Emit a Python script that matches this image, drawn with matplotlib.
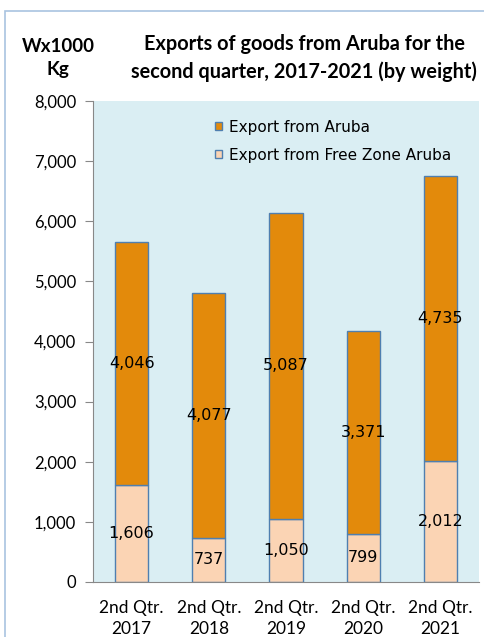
import matplotlib.pyplot as plt
from matplotlib.patches import Rectangle

plt.rcParams['font.family'] = ['Lato', 'DejaVu Sans']

categories = ['2nd Qtr.\n2017', '2nd Qtr.\n2018', '2nd Qtr.\n2019', '2nd Qtr.\n2020', '2nd Qtr.\n2021']
free_zone = [1606, 737, 1050, 799, 2012]
aruba = [4046, 4077, 5087, 3371, 4735]

c_aruba = '#E38A0B'
c_free = '#FBD4B4'
c_edge = '#4F7FB0'

fig = plt.figure(figsize=(4.84, 6.37), dpi=100)
# light blue chart-area border (right and bottom run off the image)
fig.patches.append(Rectangle((5 / 484, -0.1), 1.2, (637 - 11) / 637 + 0.1, transform=fig.transFigure,
                             fill=False, edgecolor='#A9C4E0', linewidth=1.2))

ax = fig.add_axes([93 / 484, 55 / 637, 386 / 484, 481 / 637])
ax.set_facecolor('#DAEEF3')

x = range(len(categories))
b1 = ax.bar(x, free_zone, width=0.43, color=c_free, edgecolor=c_edge, linewidth=1,
            label='Export from Free Zone Aruba', zorder=2)
b2 = ax.bar(x, aruba, width=0.43, bottom=free_zone, color=c_aruba, edgecolor=c_edge, linewidth=1,
            label='Export from Aruba', zorder=2)

for i in x:
    ax.text(i, free_zone[i] / 2, f'{free_zone[i]:,}', ha='center', va='center', fontsize=11.5,
            family='DejaVu Sans', color='black', zorder=3)
    ax.text(i, free_zone[i] + aruba[i] / 2, f'{aruba[i]:,}', ha='center', va='center', fontsize=11.5,
            family='DejaVu Sans', color='black', zorder=3)

ax.set_xlim(-0.5, len(categories) - 0.5)
ax.set_ylim(0, 8000)
ax.set_yticks(range(0, 8001, 1000))
ax.set_yticklabels([f'{v:,}' for v in range(0, 8001, 1000)])
ax.set_xticks(list(x))
ax.set_xticklabels(categories, linespacing=1.35)
ax.tick_params(axis='y', length=6, color='#888888', labelsize=12, pad=6)
ax.tick_params(axis='x', length=0, labelsize=12.5, pad=13)
for s in ['top', 'right']:
    ax.spines[s].set_visible(False)
ax.spines['left'].set_color('#888888')
ax.spines['bottom'].set_color('#888888')

leg = ax.legend(handles=[b2, b1], loc='upper left', bbox_to_anchor=(0.28, 0.99), frameon=False,
                prop={'family': 'DejaVu Sans', 'size': 11}, handlelength=0.5, handleheight=0.5,
                handletextpad=0.45, labelspacing=0.85)

fig.text(58 / 484, 1 - 58 / 637, 'Wx1000\nKg', ha='center', va='center', fontsize=13.5,
         fontweight='bold', linespacing=1.45)
fig.text(304 / 484, 1 - 58 / 637, 'Exports of goods from Aruba for the\nsecond quarter, 2017-2021 (by weight)',
         ha='center', va='center', fontsize=14.3, fontweight='bold', linespacing=1.4)

fig.savefig('out.png', dpi=100)
